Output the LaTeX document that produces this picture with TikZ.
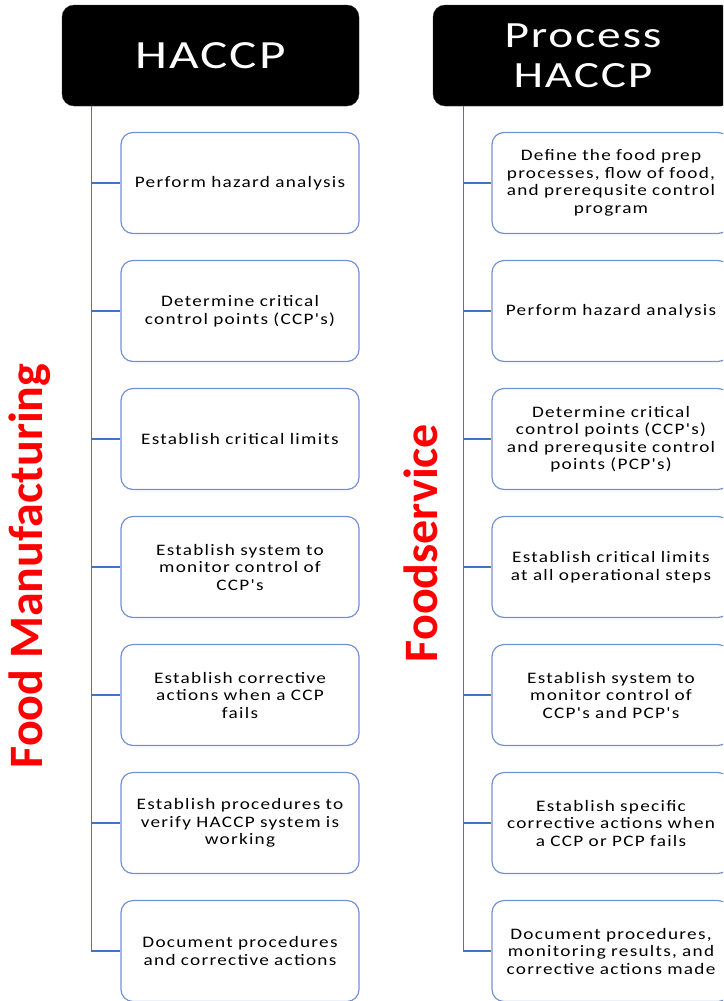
\documentclass[tikz,border=0pt]{standalone}
\usepackage{fontspec}
\newfontfamily\boxfont[FakeStretch=1.2,LetterSpace=8]{Carlito}
\newfontfamily\headfont[FakeStretch=1.28,LetterSpace=5]{Carlito}
\newfontfamily\redfont{Carlito}
\definecolor{boxline}{RGB}{115,145,210}
\definecolor{connline}{RGB}{68,114,196}
\tikzset{
  stepbox/.style={draw=boxline, line width=1.2pt, rounded corners=12pt, fill=white,
    minimum height=101pt, align=center, inner sep=2pt,
    font=\boxfont\fontsize{16}{17.5}\selectfont},
  leftbox/.style={stepbox, minimum width=238pt, text width=234pt},
  rightbox/.style={stepbox, minimum width=236pt, text width=234pt},
  headbox/.style={fill=black, draw=black!80, rounded corners=12pt, minimum height=101pt,
    text=white, align=center},
  conn/.style={draw=connline, line width=1.2pt},
  sidelabel/.style={rotate=90, text=red, font=\redfont\bfseries\fontsize{48}{50}\selectfont}
}
\begin{document}
\begin{tikzpicture}[x=1pt,y=1pt]
\path[use as bounding box] (0,0) rectangle (723,-1001);
\clip (0,0) rectangle (723,-1001);

% headers
\node[headbox, minimum width=297pt, font=\headfont\fontsize{40}{40}\selectfont] (hL) at (210.5,-55.5) {HACCP};
\node[headbox, minimum width=300pt, font=\headfont\fontsize{37}{40}\selectfont] (hR) at (583,-55.5) {Process\\HACCP};

% side labels
\node[sidelabel] (fm) at (30,-566) {Food Manufacturing};
\node[sidelabel] (fs) at (421,-543) {Foodservice};

% left boxes
\node[leftbox] (bL1) at (240,-183) {Perform hazard analysis};
\node[leftbox] (bL2) at (240,-311) {Determine critical\\control points (CCP's)};
\node[leftbox] (bL3) at (240,-439) {Establish critical limits};
\node[leftbox] (bL4) at (240,-567) {Establish system to\\monitor control of\\CCP's};
\node[leftbox] (bL5) at (240,-695) {Establish corrective\\actions when a CCP\\fails};
\node[leftbox] (bL6) at (240,-823) {Establish procedures to\\verify HACCP system is\\working};
\node[leftbox] (bL7) at (240,-951) {Document procedures\\and corrective actions};

% right boxes
\node[rightbox] (bR1) at (611,-183) {Define the food prep\\processes, flow of food,\\and prerequsite control\\program};
\node[rightbox] (bR2) at (611,-311) {Perform hazard analysis};
\node[rightbox] (bR3) at (611,-439) {Determine critical\\control points (CCP's)\\and prerequsite control\\points (PCP's)};
\node[rightbox] (bR4) at (611,-567) {Establish critical limits\\at all operational steps};
\node[rightbox] (bR5) at (611,-695) {Establish system to\\monitor control of\\CCP's and PCP's};
\node[rightbox] (bR6) at (611,-823) {Establish specific\\corrective actions when\\a CCP or PCP fails};
\node[rightbox] (bR7) at (611,-951) {Document procedures,\\monitoring results, and\\corrective actions made};

% connectors
\coordinate (vL) at ([xshift=30pt]hL.south west);
\coordinate (vR) at ([xshift=31pt]hR.south west);
\draw[conn] (vL) |- (bL7.west);
\draw[conn] (vR) |- (bR7.west);
\foreach \i in {1,...,6}{
  \draw[conn] (vL |- bL\i.west) -- (bL\i.west);
  \draw[conn] (vR |- bR\i.west) -- (bR\i.west);
}
\end{tikzpicture}
\end{document}
